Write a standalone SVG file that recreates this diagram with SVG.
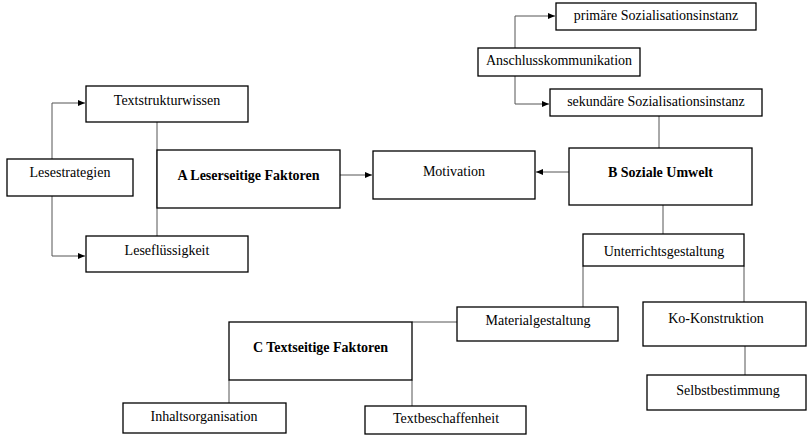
<svg xmlns="http://www.w3.org/2000/svg" width="807" height="436" viewBox="0 0 807 436">
<defs>
<marker id="arr" markerWidth="7" markerHeight="6" refX="7" refY="3" orient="auto" markerUnits="userSpaceOnUse">
<path d="M0,0 L7,3 L0,6 Z" fill="#000"/>
</marker>
<style>
.box{fill:#fff;stroke:#000;stroke-width:1.3}
.t{font-family:"Liberation Serif","Times New Roman",serif;font-size:14px;fill:#000;text-anchor:middle}
.b{font-weight:bold}
.c{fill:none;stroke:#555;stroke-width:1}
.ca{fill:none;stroke:#555;stroke-width:1;marker-end:url(#arr)}
</style>
</defs>
<rect width="807" height="436" fill="#fff"/>
<g id="connectors">
<polyline class="ca" points="52,159 52,103 85,103"/>
<polyline class="ca" points="52,196 52,256 85,256"/>
<line class="c" x1="157" y1="122" x2="157" y2="236"/>
<line class="ca" x1="340" y1="175" x2="372" y2="175"/>
<line class="ca" x1="569" y1="172" x2="536" y2="172"/>
<polyline class="ca" points="515,48 515,16 555,16"/>
<polyline class="ca" points="515,76 515,104 549,104"/>
<line class="c" x1="659" y1="116" x2="659" y2="148"/>
<line class="c" x1="663" y1="205" x2="663" y2="234"/>
<line class="c" x1="583" y1="266" x2="583" y2="307"/>
<line class="c" x1="744" y1="266" x2="744" y2="302"/>
<line class="c" x1="745" y1="346" x2="745" y2="375"/>
<line class="c" x1="412" y1="322" x2="457" y2="322"/>
<line class="c" x1="229" y1="380" x2="229" y2="403"/>
<line class="c" x1="412" y1="380" x2="412" y2="406"/>
</g>
<g id="textstrukturwissen"><rect class="box" x="86" y="86" width="162" height="36"/><text class="t" x="167" y="105">Textstrukturwissen</text></g>
<g id="lesestrategien"><rect class="box" x="7" y="159" width="126" height="37"/><text class="t" x="70" y="177">Lesestrategien</text></g>
<g id="leserseitige"><rect class="box" x="157" y="150" width="183" height="58"/><text class="t b" x="248.5" y="180">A Leserseitige Faktoren</text></g>
<g id="leseflussigkeit"><rect class="box" x="86" y="236" width="162" height="36"/><text class="t" x="167" y="255">Leseflüssigkeit</text></g>
<g id="motivation"><rect class="box" x="373" y="151" width="162" height="48"/><text class="t" x="454" y="176">Motivation</text></g>
<g id="primaere"><rect class="box" x="556" y="3" width="200" height="27"/><text class="t" x="656" y="20">primäre Sozialisationsinstanz</text></g>
<g id="anschluss"><rect class="box" x="478" y="48" width="162" height="28"/><text class="t" x="559" y="65">Anschlusskommunikation</text></g>
<g id="sekundaere"><rect class="box" x="550" y="89" width="212" height="27"/><text class="t" x="656" y="106">sekundäre Sozialisationsinstanz</text></g>
<g id="soziale"><rect class="box" x="569" y="148" width="183" height="57"/><text class="t b" x="660.5" y="177">B Soziale Umwelt</text></g>
<g id="unterricht"><rect class="box" x="583" y="234" width="161" height="32"/><text class="t" x="664" y="256">Unterrichtsgestaltung</text></g>
<g id="material"><rect class="box" x="457" y="307" width="161" height="34"/><text class="t" x="538" y="325">Materialgestaltung</text></g>
<g id="ko"><rect class="box" x="643" y="302" width="163" height="44"/><text class="t" x="716" y="323">Ko-Konstruktion</text></g>
<g id="selbst"><rect class="box" x="647" y="375" width="159" height="35"/><text class="t" x="728" y="395">Selbstbestimmung</text></g>
<g id="textseitige"><rect class="box" x="229" y="322" width="183" height="58"/><text class="t b" x="320.5" y="352">C Textseitige Faktoren</text></g>
<g id="inhalt"><rect class="box" x="123" y="403" width="163" height="30"/><text class="t" x="204" y="421">Inhaltsorganisation</text></g>
<g id="textbeschaffenheit"><rect class="box" x="365" y="406" width="161" height="28"/><text class="t" x="446" y="423">Textbeschaffenheit</text></g>
</svg>
